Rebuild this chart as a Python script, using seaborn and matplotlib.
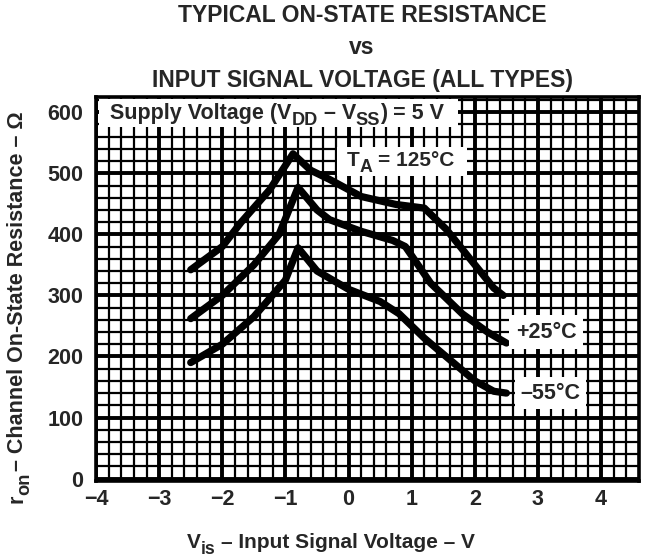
import numpy as np
import pandas as pd
import matplotlib
matplotlib.use("Agg")
import matplotlib.pyplot as plt
import seaborn as sns
from matplotlib.ticker import MultipleLocator
from matplotlib.transforms import IdentityTransform
from matplotlib.patches import Rectangle

# ---- data ----
v_125 = [-2.5, -2.0, -1.7, -1.25, -0.88, -0.6, -0.3, 0.2, 0.75, 1.2, 1.55, 1.9, 2.3, 2.45]
r_125 = [342, 380, 420, 473, 532, 505, 490, 462, 449, 443, 408, 363, 312, 300]

v_25 = [-2.5, -2.0, -1.5, -1.1, -0.8, -0.5, -0.3, 0.2, 0.7, 0.9, 1.3, 1.8, 2.2, 2.5]
r_25 = [262, 300, 350, 400, 477, 440, 424, 405, 390, 380, 320, 270, 240, 222]

v_m55 = [-2.5, -2.0, -1.5, -1.0, -0.8, -0.5, 0.0, 0.5, 0.8, 1.2, 1.6, 2.0, 2.3, 2.5]
r_m55 = [190, 220, 265, 325, 378, 340, 310, 290, 270, 230, 195, 160, 143, 140]

x_ticks = [-4, -3, -2, -1, 0, 1, 2, 3, 4]
y_ticks = [0, 100, 200, 300, 400, 500, 600]

title_lines = ["TYPICAL ON-STATE RESISTANCE", "vs", "INPUT SIGNAL VOLTAGE (ALL TYPES)"]

df = pd.concat([
    pd.DataFrame({"v": v_125, "r": r_125, "temp": "125"}),
    pd.DataFrame({"v": v_25, "r": r_25, "temp": "25"}),
    pd.DataFrame({"v": v_m55, "r": r_m55, "temp": "-55"}),
], ignore_index=True)

sns.set_style("white")
plt.rcParams['font.family'] = ['Liberation Sans', 'DejaVu Sans']
plt.rcParams['font.weight'] = 'bold'
plt.rcParams['axes.unicode_minus'] = True

W, H = 660, 559
fig = plt.figure(figsize=(W / 100, H / 100), dpi=100)
L, R, T, B = 96, 639, 97, 481
ax = fig.add_axes([L / W, 1 - B / H, (R - L) / W, (B - T) / H])

sns.lineplot(data=df, x="v", y="r", hue="temp", palette=["black"] * 3,
             linewidth=5.2, legend=False, ax=ax, sort=False, estimator=None)

ax.set_xlim(-4, 4.6)
ax.set_ylim(-4, 625)
ax.set_xticks(x_ticks)
ax.set_yticks(y_ticks)
ax.xaxis.set_minor_locator(MultipleLocator(0.2))
ax.yaxis.set_minor_locator(MultipleLocator(20))
ax.set_axisbelow(True)
ax.grid(which="major", color="black", linewidth=2.8)
ax.grid(which="minor", color="black", linewidth=1.6)
ax.tick_params(which="both", length=0)
ax.tick_params(axis="x", pad=6, labelsize=15.5)
ax.tick_params(axis="y", pad=9, labelsize=15.5)
for lab in ax.get_xticklabels() + ax.get_yticklabels():
    lab.set_fontweight("bold")
for s in ax.spines.values():
    s.set_color("black")
    s.set_linewidth(2.6)
ax.set_xlabel("")
ax.set_ylabel("")

renderer = fig.canvas.get_renderer()
ident = IdentityTransform()


def chain(x0, y0, pieces, size, rotation=0, zorder=7):
    """Place text pieces one after another (pixel coords, origin bottom-left).
    pieces: (text, scale, baseline_shift_em, gap_before_em)."""
    em = size * 100 / 72
    cur = 0.0
    exts = []
    for s, scale, shift, gap in pieces:
        cur += gap * em
        if rotation == 0:
            t = fig.text(x0 + cur, y0 - shift * em, s, fontsize=size * scale,
                         ha="left", va="baseline", transform=ident,
                         fontweight="bold", zorder=zorder)
            e = t.get_window_extent(renderer)
            cur += e.width
        else:
            t = fig.text(x0 + shift * em, y0 + cur, s, fontsize=size * scale,
                         rotation=90, rotation_mode="anchor", ha="left",
                         va="baseline", transform=ident, fontweight="bold",
                         zorder=zorder)
            e = t.get_window_extent(renderer)
            cur += e.height
        exts.append(e)
    return exts


def white_box(x0, y0, x1, y1):
    fig.add_artist(Rectangle((x0, y0), x1 - x0, y1 - y0, transform=ident,
                             facecolor="white", edgecolor="none", zorder=6))


SUB = 0.85
SH = 0.28

# Supply voltage label (top-left, white box to the frame)
ex = chain(110, H - 119, [("Supply Voltage (V", 1, 0, 0), ("DD", SUB, SH, 0),
                          ("– V", 1, 0, 0.278), ("SS", SUB, SH, 0),
                          (") = 5 V", 1, 0, 0)], 15.5)
right = max(e.x1 for e in ex)
white_box(98.5, H - 127, right + 14, H - 98.5)

# T_A = 125 C
ex = chain(347, H - 166, [("T", 1, 0, 0), ("A", SUB, SH, 0),
                          ("= 125°C", 1, 0, 0.278)], 15)
white_box(337, H - 176, max(e.x1 for e in ex) + 12, H - 147)

ax.text(3.13, 240, "+25°C", ha="center", va="center", fontsize=15.5,
        fontweight="bold", bbox=dict(facecolor="white", edgecolor="none", pad=5), zorder=6)
ax.text(3.2, 140, "–55°C", ha="center", va="center", fontsize=15.5,
        fontweight="bold", bbox=dict(facecolor="white", edgecolor="none", pad=4), zorder=6)

for t, yp in zip(title_lines, [15, 48, 80]):
    fig.text(362 / W, 1 - yp / H, t, ha="center", va="center",
             fontsize=16.5, fontweight="bold")

# x label
chain(187, H - 548, [("V", 1, 0, 0), ("is", SUB, SH, 0),
                     ("– Input Signal Voltage – V", 1, 0, 0.278)], 15)
# y label (rotated)
chain(23, H - 503, [("r", 1, 0, 0), ("on", SUB, SH, 0),
                    ("– Channel On-State Resistance – Ω", 1, 0, 0.05)], 15.5,
      rotation=90)

fig.savefig("out.png", dpi=100)
